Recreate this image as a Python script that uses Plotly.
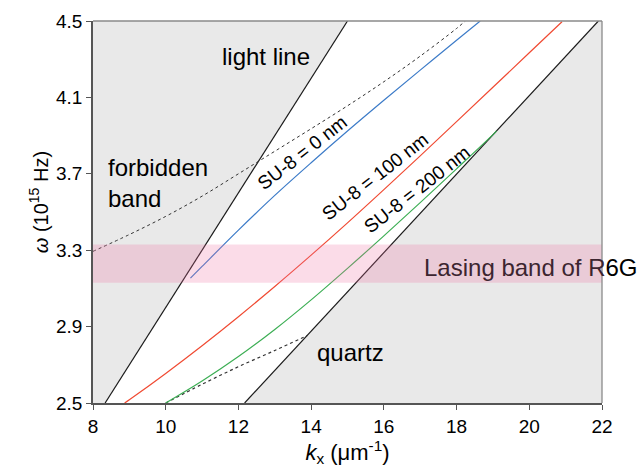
import plotly.graph_objects as go

# ---- data ----
x_range = [8, 22]
y_range = [2.5, 4.5]
x_ticks = [8, 10, 12, 14, 16, 18, 20, 22]
y_ticks = [2.5, 2.9, 3.3, 3.7, 4.1, 4.5]
y_tick_text = ["2.5", "2.9", "3.3", "3.7", "4.1", "4.5"]

light_k = [8.333, 15.0]
light_w = [2.5, 4.5]
quartz_k = [12.17, 21.9]
quartz_w = [2.5, 4.5]

forbid_k = [8, 9, 10, 11, 12, 13, 14, 15, 16, 17, 18, 18.24]
forbid_w = [3.294, 3.382, 3.477, 3.583, 3.700, 3.818, 3.936, 4.056, 4.182, 4.316, 4.461, 4.5]

su0_k = [10.68, 11, 12, 13, 14, 15, 16, 17, 18, 18.65]
su0_w = [3.154, 3.215, 3.405, 3.587, 3.758, 3.924, 4.085, 4.243, 4.399, 4.5]

su100_k = [8.87, 9, 10, 11, 12, 13, 14, 15, 16, 17, 18, 19, 20, 20.9]
su100_w = [2.5, 2.517, 2.655, 2.800, 2.952, 3.110, 3.274, 3.443, 3.617, 3.794, 3.973, 4.153, 4.334, 4.496]

su200_k = [10, 11, 12, 13, 14, 15, 16, 17, 18, 19, 19.1]
su200_w = [2.5, 2.615, 2.743, 2.885, 3.040, 3.205, 3.375, 3.549, 3.726, 3.905, 3.925]

low_k = [10, 11, 12, 13, 13.89]
low_w = [2.5, 2.598, 2.690, 2.775, 2.853]

band_lo, band_hi = 3.13, 3.33

FONT = "Arial, 'Liberation Sans', sans-serif"
GRAY = "#e9e9e9"

fig = go.Figure()

# forbidden (left of light line) region
fig.add_trace(go.Scatter(
    x=[x_range[0], light_k[0], light_k[1], x_range[0]],
    y=[y_range[0], light_w[0], light_w[1], y_range[1]],
    fill="toself", fillcolor=GRAY, line=dict(width=0), mode="lines",
    hoverinfo="skip", showlegend=False))
# below quartz line region
fig.add_trace(go.Scatter(
    x=[quartz_k[0], x_range[1], x_range[1], quartz_k[1]],
    y=[quartz_w[0], y_range[0], y_range[1], quartz_w[1]],
    fill="toself", fillcolor=GRAY, line=dict(width=0), mode="lines",
    hoverinfo="skip", showlegend=False))

def line(x, y, color, dash="solid", width=1.2):
    fig.add_trace(go.Scatter(x=x, y=y, mode="lines", line=dict(color=color, width=width, dash=dash, shape="spline"),
                             hoverinfo="skip", showlegend=False))

line(light_k, light_w, "#1a1a1a")
line(quartz_k, quartz_w, "#1a1a1a")
line(forbid_k, forbid_w, "#333333", dash="dot", width=1)
line(low_k, low_w, "#333333", dash="dot", width=1.2)
line(su0_k, su0_w, "#3c7bc8")
line(su100_k, su100_w, "#f04a32")
line(su200_k, su200_w, "#3cae54")

shapes = [
    dict(type="rect", xref="x", yref="y", x0=x_range[0], x1=x_range[1], y0=band_lo, y1=band_hi,
         fillcolor="rgba(240,110,160,0.24)", line=dict(width=0), layer="above"),
    dict(type="line", xref="paper", yref="paper", x0=0, x1=1, y0=1, y1=1,
         line=dict(color="#8a8a8a", width=1.3), layer="above"),
    dict(type="line", xref="paper", yref="paper", x0=1, x1=1, y0=0, y1=1,
         line=dict(color="#8a8a8a", width=1.3), layer="above"),
]

ann_font = dict(family=FONT, size=24, color="black")
lab_font = dict(family=FONT, size=19, color="black")
annotations = [
    dict(x=12.77, y=4.315, text="light line", showarrow=False, font=ann_font),
    dict(x=8.36, y=3.653, text="forbidden<br>band", showarrow=False, font=ann_font,
         xanchor="left", align="left"),
    dict(x=15.09, y=2.765, text="quartz", showarrow=False, font=ann_font),
    dict(x=17.04, y=3.207, text="<span style='color:#3c2530'>Lasing band of R</span>6G", showarrow=False,
         font=ann_font, xanchor="left"),
    dict(x=13.77, y=3.809, text="SU-8 = 0 nm", showarrow=False, font=lab_font, textangle=-38),
    dict(x=15.76, y=3.685, text="SU-8 = 100 nm", showarrow=False, font=lab_font, textangle=-38),
    dict(x=16.91, y=3.617, text="SU-8 = 200 nm", showarrow=False, font=lab_font, textangle=-38),
    # y axis title
    dict(xref="paper", yref="y", x=-0.135, y=3.55, text="<i>ω</i> (10<sup>15</sup> Hz)",
         showarrow=False, textangle=-90, font=dict(family=FONT, size=20, color="black")),
]

fig.update_layout(
    width=641, height=474,
    margin=dict(l=93, r=39, t=11, b=71),
    paper_bgcolor="white", plot_bgcolor="white",
    font=dict(family=FONT, color="black"),
    shapes=shapes, annotations=annotations,
    xaxis=dict(range=x_range, tickvals=x_ticks, ticks="outside", ticklen=5, tickcolor="#555",
               showline=True, linecolor="#555", linewidth=1.5, showgrid=False, zeroline=False,
               tickfont=dict(family=FONT, size=19, color="black"),
               title=dict(text="<i>k</i><sub>x</sub> (μm<sup>-1</sup>)", font=dict(family=FONT, size=22),
                          standoff=8)),
    yaxis=dict(range=y_range, tickvals=y_ticks, ticktext=y_tick_text, ticks="outside", ticklen=5,
               tickcolor="#555", showline=True, linecolor="#555", linewidth=1.5, showgrid=False,
               zeroline=False, tickfont=dict(family=FONT, size=19, color="black")),
)

fig.write_html("out.html")
